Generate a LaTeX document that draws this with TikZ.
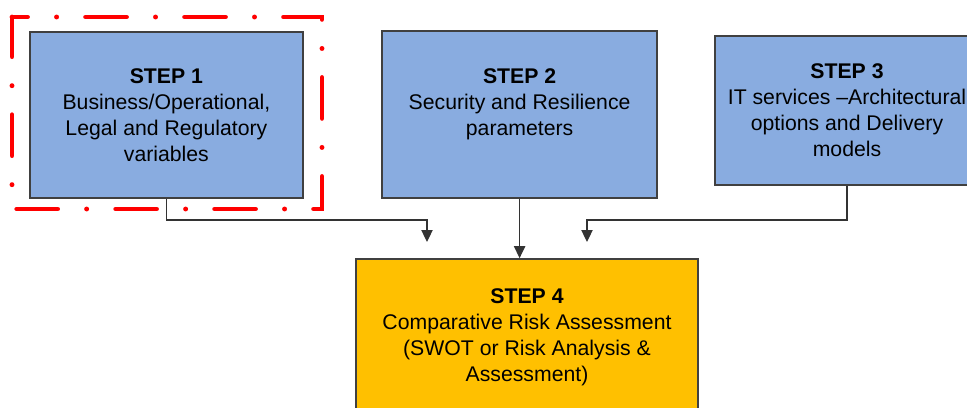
\documentclass[tikz,border=0pt]{standalone}
\usepackage{fontspec}
\setmainfont{Liberation Sans}
\usetikzlibrary{arrows.meta}
\definecolor{stepblue}{RGB}{137,172,224}
\definecolor{stepgold}{RGB}{255,192,0}
\begin{document}
\begin{tikzpicture}[line join=miter, every node/.style={font=\fontsize{15.1}{18.5}\selectfont}]
  \tikzstyle{stepbox}=[draw=black!75, line width=1.2pt, fill=stepblue, align=center, inner sep=0pt]
  \tikzstyle{link}=[draw=black!80, line width=0.9pt, -{Triangle[width=8pt,length=8.5pt]}]
  \clip (0,0) rectangle (24.175,10.175);
  \node[stepbox, minimum width=6.825cm, minimum height=4.15cm] (box1) at (4.16,7.30)
    {\textbf{STEP 1}\\Business/Operational,\\Legal and Regulatory\\variables};
  \node[stepbox, minimum width=6.875cm, minimum height=4.175cm] (box2) at (12.99,7.31)
    {\textbf{STEP 2}\\Security and Resilience\\parameters\\\mbox{}};
  \node[stepbox, minimum width=6.6cm, minimum height=3.725cm] (box3) at (21.175,7.41)
    {\textbf{STEP 3}\\IT services --Architectural\\options and Delivery\\models};
  \node[stepbox, fill=stepgold, minimum width=8.55cm, minimum height=3.9cm] (box4) at (13.175,1.75)
    {\textbf{STEP 4}\\Comparative Risk Assessment\\(SWOT or Risk Analysis \&\\Assessment)};
  % focus frame round step 1
  \draw[red, line width=3.5pt, line cap=round, dash pattern=on 29pt off 20.7pt on 0pt off 20.7pt, dash phase=18pt]
    (0.3,9.75) -- (8.05,9.75) -- (8.05,4.95) -- (0.3,4.95) -- cycle;
  \coordinate (bend1) at (10.675,4.675);
  \coordinate (in1) at (10.675,4.125);
  \coordinate (bend3) at (14.675,4.675);
  \coordinate (in3) at (14.675,4.125);
  \draw[link] (box1.south) |- (bend1) -- (in1);
  \draw[link] (box2.south) -- (box2.south |- box4.north);
  \draw[link] (box3.south) |- (bend3) -- (in3);
\end{tikzpicture}
\end{document}
